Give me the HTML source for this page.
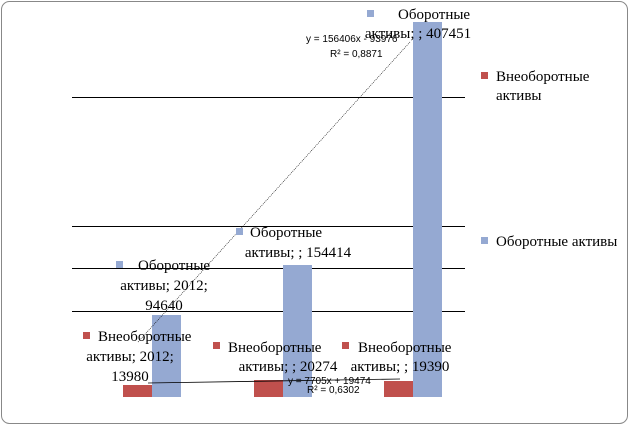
<!DOCTYPE html>
<html><head><meta charset="utf-8"><style>
body{margin:0;background:#fff}
svg text{font-family:"Liberation Serif",serif;fill:#000}
</style></head><body>
<svg width="629" height="425" xmlns="http://www.w3.org/2000/svg">
<rect x="1.5" y="1.5" width="626" height="422" rx="8" fill="#fff" stroke="#888" stroke-width="1"/>
<g stroke="#000" stroke-width="1">
<line x1="72" y1="97.5" x2="465" y2="97.5"/>
<line x1="72" y1="226.5" x2="465" y2="226.5"/>
<line x1="72" y1="268.5" x2="465" y2="268.5"/>
<line x1="72" y1="311.5" x2="465" y2="311.5"/>
</g>
<rect x="123" y="385" width="29" height="12" fill="#c0504d"/>
<rect x="152" y="315" width="29" height="82" fill="#95a9d2"/>
<rect x="254" y="380" width="29" height="17" fill="#c0504d"/>
<rect x="283" y="265" width="29" height="132" fill="#95a9d2"/>
<rect x="384" y="381" width="29" height="16" fill="#c0504d"/>
<rect x="413" y="22" width="29" height="375" fill="#95a9d2"/>
<line x1="138" y1="342" x2="410" y2="42" stroke="#000" stroke-width="0.6" stroke-dasharray="1,1"/>
<line x1="148" y1="383" x2="400" y2="379" stroke="#000" stroke-width="0.8"/>
<g font-size="15">
<rect x="116" y="261" width="7" height="7" fill="#95a9d2"/>
<text x="138" y="270">Оборотные</text>
<text x="164" y="290" text-anchor="middle">активы; 2012;</text>
<text x="164" y="310" text-anchor="middle">94640</text>
<rect x="236" y="228" width="7" height="7" fill="#95a9d2"/>
<text x="250" y="237">Оборотные</text>
<text x="298" y="257" text-anchor="middle">активы; ; 154414</text>
<rect x="367" y="10" width="7" height="7" fill="#95a9d2"/>
<text x="398" y="19">Оборотные</text>
<text x="418" y="38" text-anchor="middle">активы; ; 407451</text>
<rect x="83" y="332" width="7" height="7" fill="#c0504d"/>
<text x="98" y="341">Внеоборотные</text>
<text x="130" y="361" text-anchor="middle">активы; 2012;</text>
<text x="130" y="381" text-anchor="middle">13980</text>
<rect x="213" y="342" width="7" height="7" fill="#c0504d"/>
<text x="228" y="352">Внеоборотные</text>
<text x="288" y="371" text-anchor="middle">активы; ; 20274</text>
<rect x="342" y="342" width="7" height="7" fill="#c0504d"/>
<text x="358" y="352">Внеоборотные</text>
<text x="400" y="371" text-anchor="middle">активы; ; 19390</text>
<rect x="481" y="72" width="7" height="7" fill="#c0504d"/>
<text x="496" y="81">Внеоборотные</text>
<text x="496" y="100">активы</text>
<rect x="481" y="237" width="7" height="7" fill="#95a9d2"/>
<text x="496" y="246">Оборотные активы</text>
</g>
<g font-family="Liberation Sans,sans-serif" font-size="10">
<text x="306" y="42" style="font-family:'Liberation Sans',sans-serif">y = 156406x - 93976</text>
<text x="330" y="57" style="font-family:'Liberation Sans',sans-serif">R² = 0,8871</text>
<text x="288" y="384" style="font-family:'Liberation Sans',sans-serif">y = 7705x + 19474</text>
<text x="307" y="393" style="font-family:'Liberation Sans',sans-serif">R² = 0,6302</text>
</g>
</svg>
</body></html>
